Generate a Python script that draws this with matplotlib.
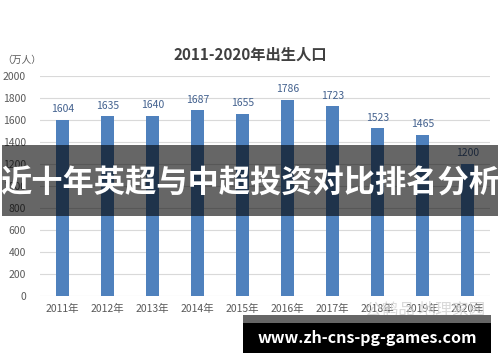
import matplotlib
matplotlib.use("Agg")
import matplotlib.pyplot as plt
from matplotlib.patches import Rectangle

plt.rcParams['font.family'] = ['Noto Sans CJK SC', 'DejaVu Sans']

years = ["2011年", "2012年", "2013年", "2014年", "2015年", "2016年", "2017年", "2018年", "2019年", "2020年"]
births = [1604, 1635, 1640, 1687, 1655, 1786, 1723, 1523, 1465, 1200]
yticks = [0, 200, 400, 600, 800, 1000, 1200, 1400, 1600, 1800, 2000]

title = "2011-2020年出生人口"
unit = "（万人）"
banner = "近十年英超与中超投资对比排名分析"
site = "www.zh-cns-pg-games.com"
watermark = "公鹤品 地理家园"

W, H = 500, 362
fig = plt.figure(figsize=(W / 100, H / 100), dpi=100)
fig.patch.set_facecolor("white")

ax = fig.add_axes([40 / W, 1 - 296 / H, 450 / W, 220 / H])
x = list(range(len(years)))
bars = ax.bar(x, births, width=0.31, color="#4f81bd", zorder=3)
ax.set_xlim(-0.5, len(years) - 0.5)
ax.set_ylim(0, 2000)
ax.set_yticks(yticks)
ax.set_yticklabels([str(v) for v in yticks])
ax.set_xticks(x)
ax.set_xticklabels(years)
ax.tick_params(axis="both", length=0, labelsize=7.5, colors="#595959")
ax.tick_params(axis="y", pad=10)
ax.tick_params(axis="x", pad=6)
for s in ax.spines.values():
    s.set_visible(False)
ax.grid(axis="y", color="#d9d9d9", linewidth=0.8, zorder=0)
ax.set_axisbelow(True)
for xi, v in zip(x, births):
    ax.annotate(str(v), (xi, v), xytext=(0, 4), textcoords="offset points",
                ha="center", va="bottom", fontsize=7.5, color="#44628f")

fig.text(250 / W, 1 - 55 / H, title, ha="center", va="center",
         fontsize=11, fontweight="bold", color="#404040")
fig.text(2 / W, 1 - 60 / H, unit, ha="left", va="center", fontsize=7, color="#595959")

# faint watermark
fig.text(365 / W, 1 - 310 / H, watermark, ha="left", va="center", fontsize=12,
         color="#d0d0d0", alpha=0.8)

# banner overlay
fig.patches.append(Rectangle((2 / W, 1 - 216 / H), 496 / W, 71 / H,
                             transform=fig.transFigure, facecolor="black",
                             alpha=0.6, edgecolor="none", zorder=10))
fig.text(250 / W, 1 - 184 / H, banner, ha="center", va="center",
         fontsize=22.5, fontweight="bold", color="white", zorder=11)

# bottom site box
fig.patches.append(Rectangle((243 / W, 1 - 323 / H), 248 / W, 8 / H,
                             transform=fig.transFigure, facecolor="#666666",
                             edgecolor="none", zorder=10))
fig.patches.append(Rectangle((243 / W, 1 - 353 / H), 248 / W, 30 / H,
                             transform=fig.transFigure, facecolor="black",
                             edgecolor="none", zorder=10))
fig.text(367 / W, 1 - 338 / H, site, ha="center", va="center",
         fontsize=11.5, fontweight="bold", color="white", zorder=11)

fig.savefig("out.png", dpi=100)
